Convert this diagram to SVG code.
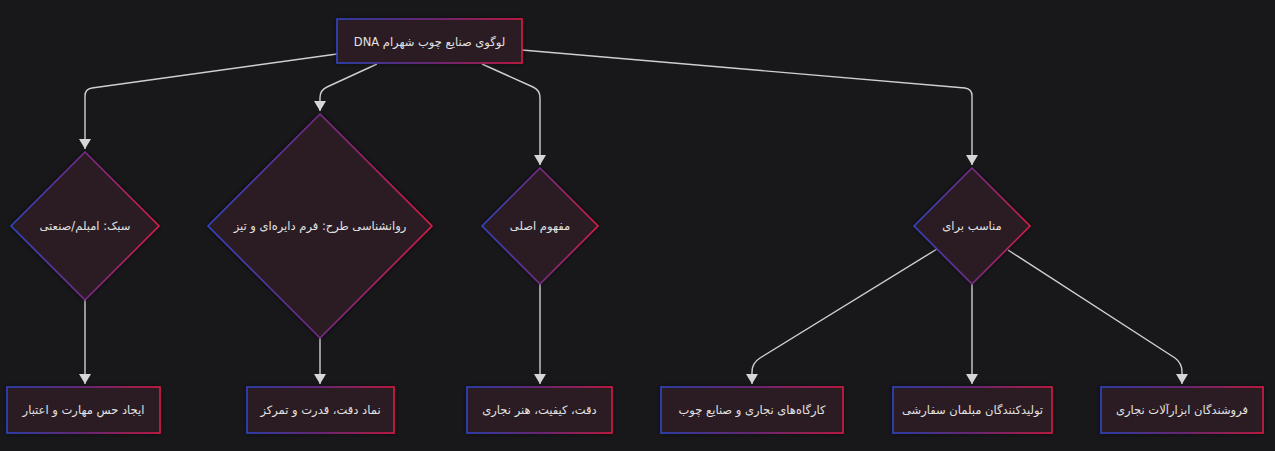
<svg xmlns="http://www.w3.org/2000/svg" width="1275" height="451" viewBox="0 0 1275 451">
<style>
.bg{fill:#18181b}
.node{fill:#2b1f22;stroke:url(#bord);stroke-width:1.5;filter:url(#glow)}
.lbl{fill:#e2e2e2;font-family:"DejaVu Sans","Liberation Sans","Noto Sans",sans-serif;font-size:11.5px;text-anchor:middle;direction:rtl;unicode-bidi:embed}
.edge{fill:none;stroke:#cfcfcf;stroke-width:1.4;marker-end:url(#arr)}
</style>
<defs>
<linearGradient id="bord" x1="0" y1="0" x2="1" y2="0">
<stop offset="0" stop-color="#3046c8"/>
<stop offset="0.5" stop-color="#7a2a8c"/>
<stop offset="1" stop-color="#e01a48"/>
</linearGradient>
<filter id="glow" x="-20%" y="-20%" width="140%" height="140%">
<feGaussianBlur in="SourceAlpha" stdDeviation="2.5" result="b"/>
<feFlood flood-color="#000000" flood-opacity="0.55"/>
<feComposite in2="b" operator="in" result="s"/>
<feMerge><feMergeNode in="s"/><feMergeNode in="SourceGraphic"/></feMerge>
</filter>
<marker id="arr" viewBox="0 0 10 12" markerWidth="10" markerHeight="12" refX="10" refY="6" orient="auto" markerUnits="userSpaceOnUse">
<path d="M0,0 L10,6 L0,12 z" fill="#d6d6d6"/>
</marker>
</defs>
<rect class="bg" x="0" y="0" width="1275" height="451"/>
<g id="edges">
<path class="edge" d="M337,54 L92,88 Q85,89 85,96 L85,149"/>
<path class="edge" d="M377,64 L327,87 Q320,90 320,98 L320,111"/>
<path class="edge" d="M482,64 L533,87 Q540,90 540,98 L540,165"/>
<path class="edge" d="M522,50 L965,88 Q972,89 972,96 L972,165"/>
<path class="edge" d="M85,300 L85,384"/>
<path class="edge" d="M320,338 L320,384"/>
<path class="edge" d="M540,284 L540,384"/>
<path class="edge" d="M937,249 L760,358 Q752,363 752,372 L752,384"/>
<path class="edge" d="M972,284 L972,384"/>
<path class="edge" d="M1008,250 L1175,358 Q1182,363 1182,372 L1182,384"/>
</g>
<g id="root">
<rect class="node" x="337" y="19" width="185" height="44"/>
<text class="lbl" x="429.5" y="45.5">لوگوی صنایع چوب شهرام DNA</text>
</g>
<g id="style">
<polygon class="node" points="85,152 159,226 85,300 11,226"/>
<text class="lbl" x="85" y="230">سبک: امبلم/صنعتی</text>
</g>
<g id="psych">
<polygon class="node" points="320,114 432,226 320,338 208,226"/>
<text class="lbl" x="320" y="230">روانشناسی طرح: فرم دایره‌ای و تیز</text>
</g>
<g id="concept">
<polygon class="node" points="540,168 598,226 540,284 482,226"/>
<text class="lbl" x="540" y="230">مفهوم اصلی</text>
</g>
<g id="suitable">
<polygon class="node" points="972,168 1030,226 972,284 914,226"/>
<text class="lbl" x="972" y="230">مناسب برای</text>
</g>
<g id="b1">
<rect class="node" x="7" y="387" width="153" height="46"/>
<text class="lbl" x="83.5" y="414">ایجاد حس مهارت و اعتبار</text>
</g>
<g id="b2">
<rect class="node" x="247" y="387" width="147" height="46"/>
<text class="lbl" x="320.5" y="414">نماد دقت، قدرت و تمرکز</text>
</g>
<g id="b3">
<rect class="node" x="467" y="387" width="145" height="46"/>
<text class="lbl" x="539.5" y="414">دقت، کیفیت، هنر نجاری</text>
</g>
<g id="b4">
<rect class="node" x="661" y="387" width="182" height="46"/>
<text class="lbl" x="752" y="414">کارگاه‌های نجاری و صنایع چوب</text>
</g>
<g id="b5">
<rect class="node" x="893" y="387" width="159" height="46"/>
<text class="lbl" x="972.5" y="414">تولیدکنندگان مبلمان سفارشی</text>
</g>
<g id="b6">
<rect class="node" x="1101" y="387" width="162" height="46"/>
<text class="lbl" x="1182" y="414">فروشندگان ابزارآلات نجاری</text>
</g>
</svg>
